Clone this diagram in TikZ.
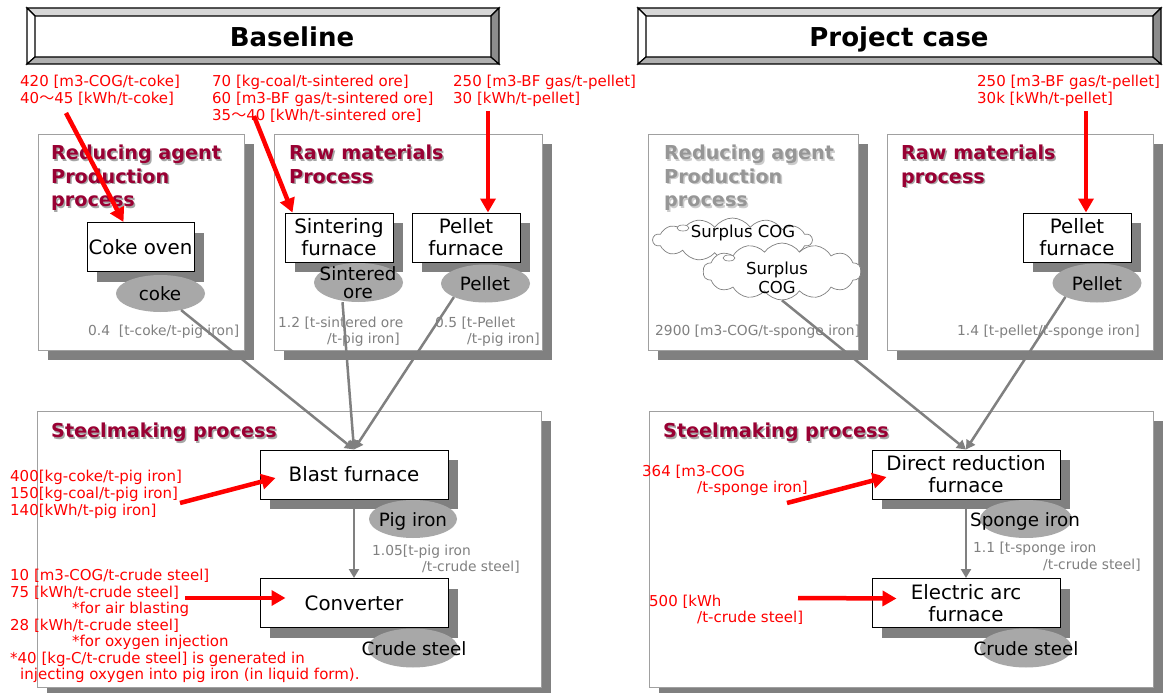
\documentclass[tikz,border=0pt]{standalone}
\usepackage{fontspec}
\setmainfont{DejaVu Sans}
\newfontfamily\cjk{Noto Sans CJK JP}
\usetikzlibrary{arrows.meta,shapes.geometric,shapes.symbols,shadows}
\definecolor{dred}{RGB}{153,0,51}
\definecolor{shc}{RGB}{128,128,128}
\definecolor{ellc}{RGB}{168,168,168}
\definecolor{gtxt}{RGB}{128,128,128}
\definecolor{frc}{RGB}{160,160,160}
\definecolor{ttlgray}{RGB}{150,150,150}
\definecolor{bvtop}{RGB}{215,215,215}
\definecolor{bvbot}{RGB}{176,176,176}
\definecolor{bvright}{RGB}{140,140,140}
\tikzset{
  frame/.style={draw=frc, line width=0.9pt, fill=white, inner sep=0pt,
    drop shadow={shadow xshift=10pt, shadow yshift=-10pt, fill=shc, opacity=1, draw=none}},
  fbox/.style={draw=black, line width=1pt, fill=white, inner sep=0pt, align=center,
    font=\fontsize{19.8}{22}\selectfont,
    drop shadow={shadow xshift=10pt, shadow yshift=-10pt, fill=shc, opacity=1, draw=none}},
  prod/.style={ellipse, fill=ellc, draw=none, inner sep=0pt},
  prodtxt/.style={font=\fontsize{18.3}{18}\selectfont, inner sep=0pt, align=center},
  redtxt/.style={text=red, font=\fontsize{15}{17}\selectfont, align=left, inner sep=0pt, anchor=north west},
  graytxt/.style={text=gtxt, font=\fontsize{13.8}{16}\selectfont, align=left, inner sep=0pt, anchor=north west},
  ttl/.style={text=dred, font=\bfseries\fontsize{19.2}{23.5}\selectfont, align=left, inner sep=0pt, anchor=north west},
  ttlsh/.style={ttl, text=black!35},
  bigttl/.style={font=\bfseries\fontsize{26}{30}\selectfont, inner sep=0pt, anchor=base},
  flow/.style={draw=shc, line width=2.5pt, -{Triangle[length=9pt,width=10pt]}},
  redarr/.style={draw=red, line width=4.5pt, -{Triangle[length=14pt,width=15pt]}},
  bevel/.style={draw=black, line width=1.2pt, line join=miter},
  cloudbox/.style={cloud, cloud puffs=14, cloud puff arc=110, draw=gray, line width=0.7pt, fill=white, inner sep=0pt},
  cloudtxt/.style={font=\fontsize{16.5}{19}\selectfont, inner sep=0pt, align=center}
}
\begin{document}
\begin{tikzpicture}[x=1pt,y=-1pt]
\useasboundingbox[fill=white] (0,0) rectangle (1163,693);

% ---------- title boxes ----------
\filldraw[bevel, fill=bvtop]   (27,8) -- (499,8) -- (491,16) -- (35,16) -- cycle;
\filldraw[bevel, fill=white]   (27,8) -- (35,16) -- (35,57) -- (27,64) -- cycle;
\filldraw[bevel, fill=bvbot]   (27,64) -- (35,57) -- (491,57) -- (499,64) -- cycle;
\filldraw[bevel, fill=bvright] (499,8) -- (491,16) -- (491,57) -- (499,64) -- cycle;
\node[bigttl] (tBase) at (292,47) {Baseline};

\filldraw[bevel, fill=bvtop]   (638,8) -- (1161,8) -- (1153,16) -- (646,16) -- cycle;
\filldraw[bevel, fill=white]   (638,8) -- (646,16) -- (646,57) -- (638,64) -- cycle;
\filldraw[bevel, fill=bvbot]   (638,64) -- (646,57) -- (1153,57) -- (1161,64) -- cycle;
\filldraw[bevel, fill=bvright] (1161,8) -- (1153,16) -- (1153,57) -- (1161,64) -- cycle;
\node[bigttl] (tProj) at (899,47) {Project case};

% ---------- frames ----------
\node[frame, minimum width=206pt, minimum height=216pt] (fRA)  at (141,242) {};
\node[frame, minimum width=268pt, minimum height=216pt] (fRM)  at (408,242) {};
\node[frame, minimum width=210pt, minimum height=216pt] (fRA2) at (753,242) {};
\node[frame, minimum width=266pt, minimum height=216pt] (fRM2) at (1020,242) {};
\node[frame, minimum width=504pt, minimum height=276pt] (fSM)  at (289,549) {};
\node[frame, minimum width=504pt, minimum height=276pt] (fSM2) at (901,549) {};

% frame titles
\node[ttlsh] (tRAs) at (52.5,146.5) {Reducing agent\\Production\\process};
\node[ttl]   (tRA)  at (51,145) {Reducing agent\\Production\\process};
\node[ttlsh] (tRMs) at (290.5,146.5) {Raw materials\\Process};
\node[ttl]   (tRM)  at (289,145) {Raw materials\\Process};
\node[ttlsh, text=black!20] (tRA2s) at (665.5,146.5) {Reducing agent\\Production\\process};
\node[ttl, text=ttlgray]    (tRA2)  at (664,145) {Reducing agent\\Production\\process};
\node[ttlsh] (tRM2s) at (902.5,146.5) {Raw materials\\process};
\node[ttl]   (tRM2)  at (901,145) {Raw materials\\process};
\node[ttlsh] (tSMs) at (52.5,424.5) {Steelmaking process};
\node[ttl]   (tSM)  at (51,423) {Steelmaking process};
\node[ttlsh] (tSM2s) at (664.5,424.5) {Steelmaking process};
\node[ttl]   (tSM2)  at (663,423) {Steelmaking process};

% ---------- clouds ----------
\node[cloudbox, aspect=3.6, minimum width=159pt, minimum height=44pt] (cl1) at (732.5,240) {};
\node[ellipse, draw=gray, line width=0.6pt, fill=white, minimum width=12pt, minimum height=6pt, inner sep=0pt] (b1) at (683,228) {};
\node[cloudtxt] (cl1t) at (743,233) {Surplus COG};
\node[cloudbox, aspect=2.8, minimum width=158pt, minimum height=57pt] (cl2) at (782,271.5) {};
\node[ellipse, draw=gray, line width=0.6pt, fill=white, minimum width=12pt, minimum height=6pt, inner sep=0pt] (b2) at (729,258) {};
\node[cloudtxt] (cl2t) at (777,278) {Surplus\\COG};

% ---------- process boxes ----------
\node[fbox, minimum width=107pt, minimum height=49pt] (coke) at (140.5,247) {Coke oven};
\node[fbox, minimum width=108pt, minimum height=49pt] (sint) at (339,237.5) {Sintering\\furnace};
\node[fbox, minimum width=108pt, minimum height=49pt] (pel)  at (466,237.5) {Pellet\\furnace};
\node[fbox, minimum width=108pt, minimum height=49pt] (pel2) at (1077,237.5) {Pellet\\furnace};
\node[fbox, minimum width=188pt, minimum height=49pt] (bf)   at (354,474.5) {Blast furnace};
\node[fbox, minimum width=188pt, minimum height=49pt] (conv) at (354,603) {Converter};
\node[fbox, minimum width=188pt, minimum height=49pt] (drf)  at (966,474.5) {Direct reduction\\furnace};
\node[fbox, minimum width=188pt, minimum height=49pt] (eaf)  at (966,603) {Electric arc\\furnace};

% ---------- products ----------
\node[prod, minimum width=89pt, minimum height=37pt] (cokeE) at (160.5,293.5) {};
\node[prod, minimum width=89pt, minimum height=39pt] (sintE) at (358.5,282.5) {};
\node[prod, minimum width=89pt, minimum height=38pt] (pelE)  at (485.5,283.5) {};
\node[prod, minimum width=89pt, minimum height=39pt] (pel2E) at (1097,283) {};
\node[prod, minimum width=88pt, minimum height=38pt] (pigE)  at (413,519) {};
\node[prod, minimum width=90pt, minimum height=39pt] (csE)   at (413,648) {};
\node[prod, minimum width=92pt, minimum height=38pt] (spE)   at (1026,519) {};
\node[prod, minimum width=92pt, minimum height=39pt] (cs2E)  at (1026,648) {};

\node[prodtxt] (cokeT) at (160,294) {coke};
\node[prodtxt] (sintT) at (358,283) {Sintered\\ore};
\node[prodtxt] (pelT)  at (485,284) {Pellet};
\node[prodtxt] (pel2T) at (1097,284) {Pellet};
\node[prodtxt] (pigT)  at (413,521) {Pig iron};
\node[prodtxt] (csT)   at (414,649) {Crude steel};
\node[prodtxt] (spT)   at (1025,521) {Sponge iron};
\node[prodtxt] (cs2T)  at (1026,649) {Crude steel};

% ---------- gray ratio texts ----------
\node[graytxt] (g1) at (88,324.5) {0.4\ \ [t-coke/t-pig iron]};
\node[graytxt] (g2) at (278,316.5) {1.2 [t-sintered ore\\\hspace*{49pt}/t-pig iron]};
\node[graytxt] (g3) at (435,316.5) {0.5 [t-Pellet\\\hspace*{32pt}/t-pig iron]};
\node[graytxt] (g4) at (372,544.5) {1.05[t-pig iron\\\hspace*{50pt}/t-crude steel]};
\node[graytxt] (g5) at (655,324.5) {2900 [m3-COG/t-sponge iron]};
\node[graytxt] (g6) at (957,324.5) {1.4 [t-pellet/t-sponge iron]};
\node[graytxt, font=\fontsize{13.8}{17}\selectfont] (g7) at (973,541.5) {1.1 [t-sponge iron\\\hspace*{70pt}/t-crude steel]};

% ---------- red input texts ----------
\node[redtxt] (rt1) at (20,75) {420 [m3-COG/t-coke]\\40{\cjk ～}45 [kWh/t-coke]};
\node[redtxt] (rt2) at (212,75) {70 [kg-coal/t-sintered ore]\\60 [m3-BF gas/t-sintered ore]\\35{\cjk ～}40 [kWh/t-sintered ore]};
\node[redtxt] (rt3) at (453,75) {250 [m3-BF gas/t-pellet]\\30 [kWh/t-pellet]};
\node[redtxt] (rt4) at (977,75) {250 [m3-BF gas/t-pellet]\\30k [kWh/t-pellet]};
\node[redtxt] (rt5) at (10,470) {400[kg-coke/t-pig iron]\\150[kg-coal/t-pig iron]\\140[kWh/t-pig iron]};
\node[redtxt, font=\fontsize{15}{16.5}\selectfont] (rt6) at (10,569) {10 [m3-COG/t-crude steel]\\75 [kWh/t-crude steel]\\\hspace*{62pt}*for air blasting\\28 [kWh/t-crude steel]\\\hspace*{62pt}*for oxygen injection\\*40 [kg-C/t-crude steel] is generated in\\\hspace*{10pt}injecting oxygen into pig iron (in liquid form).};
\node[redtxt, font=\fontsize{15}{15.5}\selectfont] (rt7) at (642,465) {364 [m3-COG\\\hspace*{55pt}/t-sponge iron]};
\node[redtxt, font=\fontsize{15}{16}\selectfont] (rt8) at (649,595) {500 [kWh\\\hspace*{48pt}/t-crude steel]};

% ---------- gray flows ----------
\draw[flow] (cokeE) -- (bf.north);
\draw[flow] ([xshift=-16pt]sintE.south) -- (bf.north);
\draw[flow] (pelE.south west) -- (bf.north);
\draw[flow] (bf.south) -- (conv.north);
\draw[flow] (cl2.south) -- (drf.north);
\draw[flow] (pel2E.south west) -- (drf.north);
\draw[flow] (drf.south) -- (eaf.north);

% ---------- red inputs ----------
\coordinate (r1s) at (66,113);
\coordinate (r2s) at (254,116);
\coordinate (r3s) at (488,111);
\coordinate (r4s) at (1086,111);
\coordinate (r5s) at (180,503);
\coordinate (r6s) at (185,598);
\coordinate (r7s) at (787,503);
\coordinate (r8s) at (798,598);
\draw[redarr] (r1s) -- ([xshift=-17pt]coke.north);
\draw[redarr] (r2s) -- ([xshift=8pt]sint.north west);
\draw[redarr] (r3s) -- ([xshift=22pt]pel.north);
\draw[redarr] (r4s) -- ([xshift=9pt]pel2.north);
\draw[redarr] (r5s) -- ([xshift=16pt,yshift=-3.5pt]bf.west);
\draw[redarr] (r6s) -- ([xshift=26pt,yshift=5pt]conv.west);
\draw[redarr] (r7s) -- ([xshift=15pt,yshift=-2.5pt]drf.west);
\draw[redarr] (r8s) -- ([xshift=25pt,yshift=4.5pt]eaf.west);
\end{tikzpicture}
\end{document}
